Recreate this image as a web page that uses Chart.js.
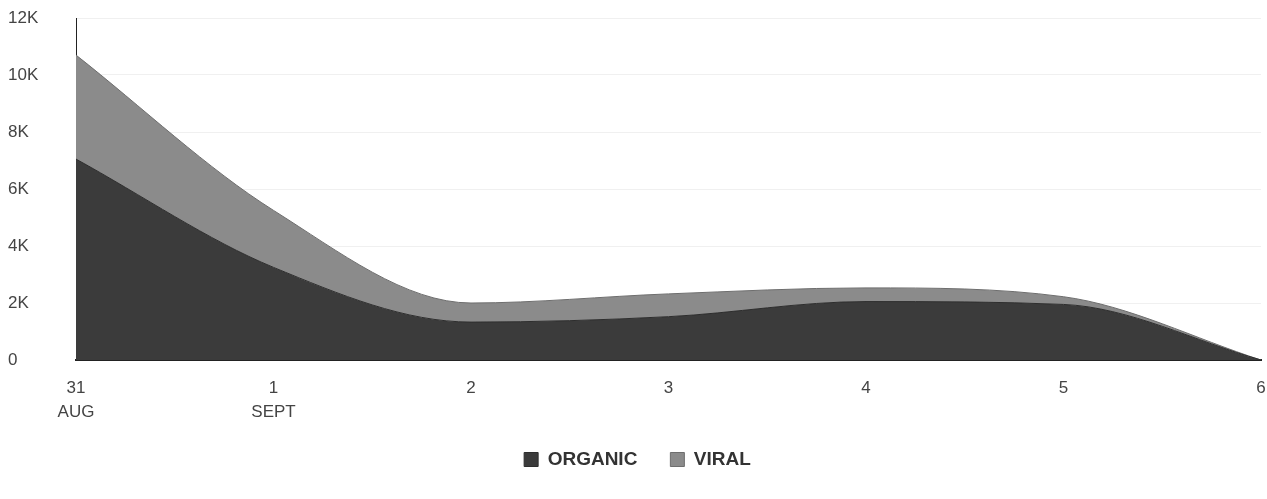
<!DOCTYPE html>
<html>
<head>
<meta charset="utf-8">
<script src="https://cdn.jsdelivr.net/npm/chart.js@4"></script>
<style>
  body { margin: 0; padding: 0; background: #fff; }
  #wrap { width: 1267px; height: 499px; position: relative; }
</style>
</head>
<body>
<div id="wrap"><canvas id="c"></canvas></div>
<script>
// ── Data ──────────────────────────────────────────────
const days = [['31', 'AUG'], ['1', 'SEPT'], '2', '3', '4', '5', '6'];
const organic = [7050, 3250, 1330, 1520, 2050, 1950, 0];
const viral   = [3650, 2000, 670, 800, 480, 270, 0];
const yTicks  = [0, 2000, 4000, 6000, 8000, 10000, 12000];

const FONT = 'Liberation Sans, Arial, sans-serif';

const ctx = document.getElementById('c').getContext('2d');
new Chart(ctx, {
    type: 'line',
    data: {
        labels: days,
        datasets: [
            {
                label: 'ORGANIC',
                data: organic,
                backgroundColor: '#3b3b3b',
                borderColor: '#2e2e2e',
                borderWidth: 1,
                fill: 'origin',
                pointRadius: 0,
                cubicInterpolationMode: 'monotone'
            },
            {
                label: 'VIRAL',
                data: viral,
                backgroundColor: '#8b8b8b',
                borderColor: '#6e6e6e',
                borderWidth: 1,
                fill: '-1',
                pointRadius: 0,
                cubicInterpolationMode: 'monotone'
            }
        ]
    },
    options: {
        responsive: true,
        maintainAspectRatio: false,
        animation: false,
        layout: { padding: { left: 8, right: 0, top: 4, bottom: 20 } },
        plugins: {
            tooltip: { enabled: false },
            legend: {
                position: 'bottom',
                labels: {
                    boxWidth: 14,
                    boxHeight: 14,
                    padding: 33,
                    color: '#333',
                    font: { family: FONT, size: 19, weight: 'bold' }
                }
            }
        },
        scales: {
            x: {
                offset: false,
                grid: { display: false, drawTicks: false },
                border: { color: '#222', width: 2 },
                // fixed band for the two-line day labels
                afterFit: axis => { axis.height = 57; axis.paddingRight = 6; },
                ticks: {
                    maxRotation: 0,
                    padding: 17,
                    color: '#444',
                    font: { family: FONT, size: 17, lineHeight: 1.38 }
                }
            },
            y: {
                stacked: true,
                min: 0,
                max: 12000,
                afterBuildTicks: axis => { axis.ticks = yTicks.map(v => ({ value: v })); },
                afterFit: axis => { axis.width = 68; axis.paddingTop = 18; },
                grid: { color: '#f0f0f0', drawTicks: false },
                border: { color: '#222', width: 1 },
                ticks: {
                    crossAlign: 'far',
                    padding: 10,
                    color: '#444',
                    font: { family: FONT, size: 17 },
                    callback: v => v === 0 ? '0' : (v / 1000) + 'K'
                }
            }
        }
    }
});
</script>
</body>
</html>
